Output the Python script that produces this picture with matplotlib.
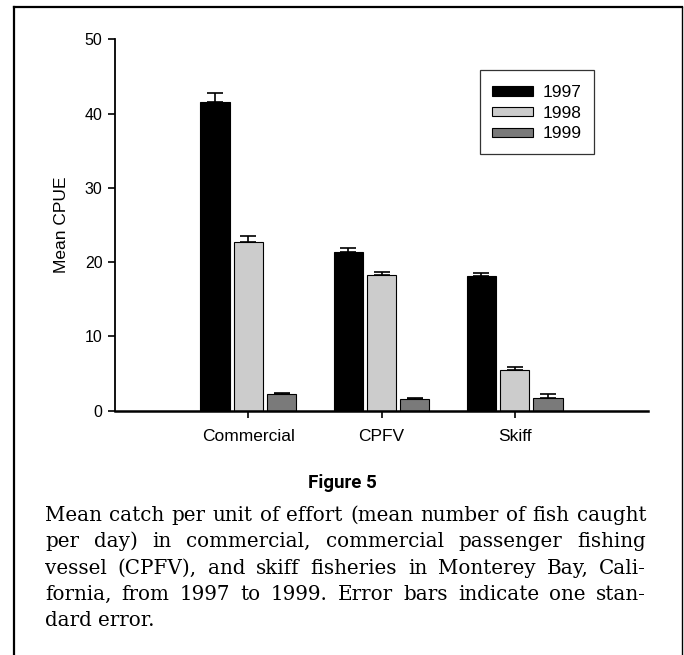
import matplotlib
matplotlib.use("Agg")
import matplotlib.pyplot as plt
from matplotlib.lines import Line2D
from matplotlib.patches import Rectangle
from matplotlib.container import BarContainer
from matplotlib.legend_handler import HandlerPatch
import numpy as np

# data
fisheries = ["Commercial", "CPFV", "Skiff"]
years = ["1997", "1998", "1999"]
cpue_1997 = [41.5, 21.3, 18.1]
cpue_1998 = [22.7, 18.3, 5.45]
cpue_1999 = [2.3, 1.6, 1.75]
se_1997 = [1.3, 0.55, 0.45]
se_1998 = [0.85, 0.4, 0.45]
se_1999 = [0.08, 0.06, 0.55]

caption_lines = [
    "Mean catch per unit of effort (mean number of fish caught",
    "per day) in commercial, commercial passenger fishing",
    "vessel (CPFV), and skiff fisheries in Monterey Bay, Cali-",
    "fornia, from 1997 to 1999. Error bars indicate one stan-",
    "dard error.",
]

W, H = 684, 655
fig = plt.figure(figsize=(W / 100, H / 100), dpi=100)
plt.rcParams["font.family"] = ["Liberation Sans", "DejaVu Sans"]

def px(x, y):
    return x / W, 1 - y / H

# frame around the whole figure panel (bottom edge is off the page)
fig.add_artist(Line2D([14 / W, 14 / W], [0, 1 - 7 / H], color="black", lw=1.6, transform=fig.transFigure))
fig.add_artist(Line2D([14 / W, 682 / W], [1 - 7 / H, 1 - 7 / H], color="black", lw=1.6, transform=fig.transFigure))
fig.add_artist(Line2D([682 / W, 682 / W], [0, 1 - 7 / H], color="black", lw=1.0, transform=fig.transFigure))

ax = fig.add_axes([115 / W, 1 - 410.7 / H, 533 / W, 371.4 / H])

x = np.arange(1, len(fisheries) + 1)
width = 0.22
offs = [-0.25, 0.0, 0.25]
colors = ["#000000", "#cccccc", "#7a7a7a"]
series = [cpue_1997, cpue_1998, cpue_1999]
errs = [se_1997, se_1998, se_1999]

for i in range(3):
    ax.bar(x + offs[i], series[i], width, color=colors[i], edgecolor="black",
           linewidth=0.8, label=years[i], zorder=2)
    ax.errorbar(x + offs[i], series[i], yerr=[[0] * 3, errs[i]], fmt="none",
                ecolor="black", elinewidth=1.2, capsize=5.5, capthick=1.2, zorder=3)

ax.set_xlim(0, 4)
ax.set_ylim(0, 50)
ax.set_yticks([0, 10, 20, 30, 40, 50])
ax.set_xticks(x)
ax.set_xticklabels(fisheries, fontsize=12.5)
ax.tick_params(axis="y", labelsize=11.5, length=5, width=1.2, direction="out", pad=4)
ax.tick_params(axis="x", length=5, width=1.2, direction="out", pad=8)
ax.spines["top"].set_visible(False)
ax.spines["right"].set_visible(False)
ax.spines["left"].set_linewidth(1.3)
ax.spines["bottom"].set_linewidth(1.8)
ax.set_ylabel("Mean CPUE", fontsize=12.5, labelpad=11)


# flat legend swatches inside taller rows
def flat_rect(legend, orig_handle, xdescent, ydescent, width, height, fontsize):
    h = 0.55 * fontsize
    return Rectangle((-xdescent, -ydescent + (height - h) / 2), width, h)


def from_first_bar(handle, orig):
    handle.update_from(orig.patches[0])


leg = ax.legend(loc="upper right", bbox_to_anchor=(0.899, 0.917), borderaxespad=0,
                fontsize=12.5, frameon=True, fancybox=False, edgecolor="black",
                handlelength=2.36, handleheight=1.1, handletextpad=0.55,
                labelspacing=0.2, borderpad=0.72,
                handler_map={BarContainer: HandlerPatch(patch_func=flat_rect,
                                                        update_func=from_first_bar)})
leg.get_frame().set_linewidth(0.9)

fx, fy = px(342, 483)
fig.text(fx, fy, "Figure 5", ha="center", va="center", fontsize=13.5,
         fontweight="bold", family="Roboto")

# justified caption
renderer = fig.canvas.get_renderer()
left, right = 45, 646
fs = 13
probe = fig.text(0, 0, caption_lines[0], fontsize=fs, family="DejaVu Serif")
wfirst = probe.get_window_extent(renderer).width
probe.remove()
fs = fs * (right - left) / wfirst * 0.985

base0, step = 521, 26.3
for k, line in enumerate(caption_lines):
    words = line.split(" ")
    texts = []
    widths = []
    for wd in words:
        t = fig.text(0, 0, wd, fontsize=fs, family="DejaVu Serif", va="baseline")
        widths.append(t.get_window_extent(renderer).width)
        texts.append(t)
    if k < len(caption_lines) - 1:
        gap = (right - left - sum(widths)) / (len(words) - 1)
    else:
        sp = fig.text(0, 0, "a a", fontsize=fs, family="DejaVu Serif")
        sp2 = fig.text(0, 0, "aa", fontsize=fs, family="DejaVu Serif")
        gap = sp.get_window_extent(renderer).width - sp2.get_window_extent(renderer).width
        sp.remove()
        sp2.remove()
    xpos = left
    ybase = base0 + k * step
    for t, wdt in zip(texts, widths):
        t.set_position(px(xpos, ybase))
        xpos += wdt + gap

fig.savefig("out.png", dpi=100)
